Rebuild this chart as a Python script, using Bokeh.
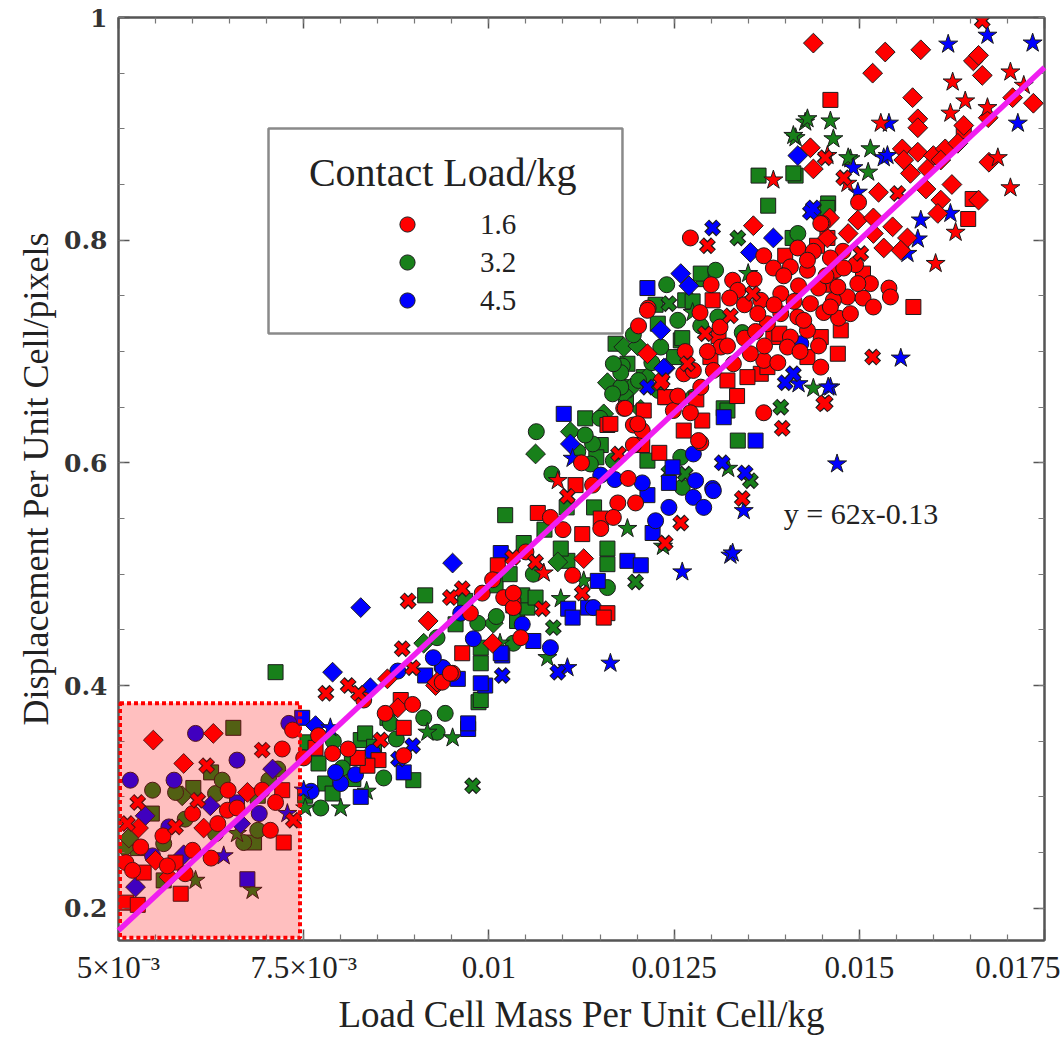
import numpy as np
from bokeh.plotting import figure
from bokeh.models import (FixedTicker, LinearAxis, BoxAnnotation, Label, Legend,
                          LegendItem, Range1d)
from bokeh.embed import file_html
from bokeh.resources import INLINE

# ---- measurements: (load cell mass per unit cell [kg], displacement per unit cell [pixels]) ----
# contact load 1.6 kg
red_circle = [
    (0.00721, 0.343), (0.00735, 0.360), (0.00510, 0.241), (0.00519, 0.234), (0.00566, 0.238),
    (0.00600, 0.252), (0.00590, 0.231), (0.00648, 0.306), (0.00647, 0.288), (0.00634, 0.276),
    (0.00694, 0.306), (0.00705, 0.270), (0.00560, 0.265), (0.00600, 0.285), (0.00660, 0.290),
    (0.00530, 0.255), (0.00712, 0.295), (0.00625, 0.245),
    (0.00991, 0.483), (0.01020, 0.479), (0.01033, 0.470), (0.00937, 0.403), (0.00951, 0.411),
    (0.00831, 0.387), (0.00897, 0.383), (0.00810, 0.343), (0.00789, 0.339), (0.00750, 0.335),
    (0.00885, 0.337), (0.00770, 0.355), (0.00860, 0.375), (0.01005, 0.495), (0.01050, 0.520),
    (0.00975, 0.465),
    (0.01182, 0.649), (0.01195, 0.634), (0.01207, 0.629), (0.01263, 0.680), (0.01276, 0.683),
    (0.01249, 0.647), (0.01286, 0.668), (0.01286, 0.618), (0.01195, 0.616), (0.01140, 0.580),
    (0.01188, 0.586), (0.01198, 0.564), (0.01174, 0.564), (0.01113, 0.499), (0.01151, 0.541),
    (0.01168, 0.551), (0.01083, 0.551), (0.01033, 0.483), (0.01371, 0.645), (0.01043, 0.443),
    (0.00948, 0.411), (0.01283, 0.620), (0.01100, 0.540), (0.01125, 0.600),
    (0.01272, 0.802), (0.01371, 0.786), (0.01450, 0.815), (0.01329, 0.764), (0.01336, 0.755),
    (0.01384, 0.775), (0.01407, 0.776), (0.01430, 0.773), (0.01367, 0.746), (0.01394, 0.752),
    (0.01418, 0.759), (0.01445, 0.757), (0.01468, 0.773), (0.01484, 0.749), (0.01465, 0.746),
    (0.01434, 0.743), (0.01417, 0.731), (0.01394, 0.734), (0.01376, 0.725), (0.01363, 0.734),
    (0.01407, 0.713), (0.01430, 0.719), (0.01403, 0.704), (0.01448, 0.686), (0.01371, 0.692),
    (0.01353, 0.698), (0.01202, 0.723), (0.01215, 0.739), (0.01313, 0.704), (0.01303, 0.683),
    (0.01330, 0.689), (0.01184, 0.649), (0.01201, 0.635), (0.01214, 0.737),
    (0.01295, 0.700), (0.01312, 0.722), (0.01325, 0.748), (0.01345, 0.712), (0.01358, 0.765),
    (0.01372, 0.705), (0.01385, 0.742), (0.01398, 0.768), (0.01412, 0.745), (0.01425, 0.728),
    (0.01438, 0.790), (0.01452, 0.735), (0.01455, 0.768), (0.01472, 0.730), (0.01478, 0.790),
    (0.01495, 0.778), (0.01505, 0.748), (0.01345, 0.742), (0.01360, 0.718), (0.01390, 0.690),
    (0.01322, 0.705), (0.01285, 0.735), (0.01300, 0.760), (0.01265, 0.700), (0.01255, 0.660),
    (0.01272, 0.645), (0.01420, 0.700), (0.01445, 0.705),
    (0.01499, 0.834), (0.01540, 0.757), (0.01515, 0.761), (0.01542, 0.749), (0.01479, 0.775),
    (0.01498, 0.761), (0.01471, 0.758), (0.01448, 0.815), (0.01461, 0.784), (0.01417, 0.793),
    (0.01430, 0.782), (0.01519, 0.740), (0.01461, 0.740), (0.01488, 0.734),
]
red_square = [
    (0.00510, 0.205), (0.00526, 0.203), (0.00534, 0.232), (0.00584, 0.213), (0.00577, 0.241),
    (0.00721, 0.306), (0.00723, 0.259),
    (0.01012, 0.508), (0.00964, 0.429), (0.00881, 0.387), (0.00885, 0.362), (0.00851, 0.333),
    (0.00836, 0.328), (0.00823, 0.335), (0.00766, 0.344),
    (0.01209, 0.647), (0.01160, 0.634), (0.01241, 0.659), (0.01288, 0.638), (0.01263, 0.629),
    (0.01230, 0.609), (0.01207, 0.616), (0.01117, 0.580), (0.01126, 0.536), (0.01151, 0.550),
    (0.01066, 0.555), (0.01033, 0.472), (0.01160, 0.465), (0.01164, 0.635), (0.01155, 0.461),
    (0.01400, 0.786), (0.01457, 0.802), (0.01443, 0.795), (0.01384, 0.713), (0.01448, 0.713),
    (0.01475, 0.719), (0.01471, 0.698), (0.01430, 0.695), (0.01367, 0.680), (0.01349, 0.677),
    (0.01238, 0.659), (0.01302, 0.746), (0.01310, 0.714), (0.01299, 0.695), (0.01322, 0.674),
    (0.01376, 0.686), (0.01335, 0.660), (0.01392, 0.716), (0.01460, 0.760), (0.01505, 0.770),
    (0.01280, 0.657),
    (0.01461, 0.926), (0.01641, 0.898), (0.01653, 0.837), (0.01647, 0.819), (0.01573, 0.740),
]
red_diamond = [
    (0.00547, 0.351), (0.00628, 0.357), (0.00588, 0.330), (0.00527, 0.272), (0.00550, 0.243),
    (0.00568, 0.228), (0.00615, 0.272), (0.00674, 0.304),
    (0.00918, 0.458), (0.01005, 0.438), (0.00863, 0.406), (0.00928, 0.400), (0.00877, 0.380),
    (0.00930, 0.403), (0.01128, 0.514),
    (0.01357, 0.813), (0.01485, 0.806), (0.01214, 0.698),
    (0.01438, 0.977), (0.01535, 0.969), (0.01583, 0.971), (0.01654, 0.961), (0.01661, 0.966),
    (0.01666, 0.948), (0.01518, 0.950), (0.01572, 0.928), (0.01707, 0.928), (0.01735, 0.923),
    (0.01579, 0.909), (0.01579, 0.901), (0.01674, 0.910), (0.01641, 0.903), (0.01434, 0.883),
    (0.01558, 0.882), (0.01579, 0.879), (0.01600, 0.876), (0.01616, 0.882), (0.01633, 0.887),
    (0.01560, 0.872), (0.01569, 0.860), (0.01592, 0.864), (0.01610, 0.872), (0.01438, 0.864),
    (0.01526, 0.843), (0.01610, 0.836), (0.01661, 0.836), (0.01606, 0.824), (0.01498, 0.818),
    (0.01519, 0.820), (0.01565, 0.802), (0.01556, 0.791), (0.01519, 0.806), (0.01533, 0.793),
    (0.01457, 0.802), (0.01590, 0.846), (0.01625, 0.850), (0.01545, 0.812), (0.01460, 0.820),
    (0.01675, 0.870),
]
red_star = [
    (0.01093, 0.584), (0.01074, 0.501),
    (0.01626, 0.942), (0.01704, 0.951), (0.01722, 0.939), (0.01643, 0.925), (0.01673, 0.919),
    (0.01623, 0.914), (0.01529, 0.905), (0.01457, 0.876), (0.01687, 0.874), (0.01704, 0.847),
    (0.01484, 0.851), (0.01630, 0.807), (0.01603, 0.779), (0.01384, 0.854),
]
red_cross = [
    (0.00619, 0.328), (0.00694, 0.342), (0.00526, 0.295), (0.00512, 0.276), (0.00577, 0.273),
    (0.00607, 0.297), (0.00736, 0.279),
    (0.00891, 0.476), (0.00948, 0.479), (0.00964, 0.487), (0.00883, 0.433), (0.00780, 0.393),
    (0.00810, 0.400), (0.00824, 0.393), (0.00897, 0.416), (0.00854, 0.351),
    (0.01234, 0.674), (0.01175, 0.608), (0.01106, 0.570), (0.01259, 0.546), (0.01238, 0.528),
    (0.01126, 0.483), (0.01032, 0.515), (0.01063, 0.511), (0.01072, 0.469), (0.01396, 0.631),
    (0.01342, 0.568),
    (0.01295, 0.795), (0.01356, 0.752), (0.01452, 0.653), (0.01292, 0.716), (0.01326, 0.732),
    (0.01268, 0.689), (0.01232, 0.672),
    (0.01666, 0.997), (0.01479, 0.856), (0.01552, 0.842), (0.01502, 0.788), (0.01454, 0.874),
    (0.01518, 0.695), (0.01454, 0.654),
]

# contact load 3.2 kg
green_circle = [
    (0.00546, 0.306), (0.00561, 0.258), (0.00577, 0.304), (0.00631, 0.303), (0.00631, 0.267),
    (0.00703, 0.315), (0.00688, 0.270), (0.00669, 0.259), (0.00590, 0.280), (0.00640, 0.315),
    (0.00715, 0.325),
    (0.00985, 0.456), (0.00930, 0.443), (0.00867, 0.366), (0.00912, 0.371), (0.00930, 0.358),
    (0.00941, 0.375), (0.00802, 0.326), (0.00858, 0.317), (0.00773, 0.290), (0.00790, 0.350),
    (0.00875, 0.352), (0.01010, 0.462), (0.01060, 0.500),
    (0.01064, 0.628), (0.01137, 0.599), (0.01140, 0.617), (0.01178, 0.668), (0.01180, 0.687),
    (0.01259, 0.605), (0.01168, 0.602), (0.01261, 0.578), (0.01160, 0.488), (0.01229, 0.665),
    (0.01033, 0.438), (0.01085, 0.590), (0.01120, 0.610),
    (0.01306, 0.773), (0.01286, 0.723), (0.01309, 0.731), (0.01342, 0.717), (0.01276, 0.659),
    (0.01178, 0.681), (0.01167, 0.662), (0.01168, 0.689), (0.01202, 0.674), (0.01232, 0.704),
    (0.01195, 0.715), (0.01240, 0.760), (0.01255, 0.728), (0.01150, 0.640), (0.01220, 0.690),
    (0.01130, 0.625),
    (0.01417, 0.806),
]
green_square = [
    (0.00655, 0.362), (0.00526, 0.254), (0.00561, 0.225), (0.00601, 0.308), (0.00688, 0.301),
    (0.00683, 0.259), (0.00545, 0.285), (0.00625, 0.322),
    (0.00914, 0.481), (0.00968, 0.476), (0.01009, 0.490), (0.00712, 0.412), (0.00989, 0.420),
    (0.00863, 0.371), (0.00986, 0.385), (0.00898, 0.315), (0.00827, 0.351), (0.00833, 0.357),
    (0.00779, 0.312), (0.00817, 0.316), (0.00789, 0.303), (0.00755, 0.349), (0.00752, 0.301),
    (0.00989, 0.387), (0.01038, 0.458), (0.01052, 0.470), (0.00989, 0.434), (0.00815, 0.335),
    (0.00845, 0.345), (0.00770, 0.330), (0.00955, 0.455), (0.01028, 0.500), (0.01075, 0.540),
    (0.01151, 0.616), (0.01214, 0.602), (0.01160, 0.523), (0.01160, 0.509), (0.01106, 0.512),
    (0.01142, 0.560), (0.01022, 0.553), (0.01047, 0.528), (0.01097, 0.523), (0.01045, 0.481),
    (0.01063, 0.479), (0.01336, 0.620), (0.01105, 0.560), (0.01130, 0.640),
    (0.01377, 0.831), (0.01410, 0.802), (0.01458, 0.833), (0.01290, 0.765), (0.01317, 0.649),
    (0.01228, 0.725), (0.01265, 0.746), (0.01259, 0.710), (0.01209, 0.677), (0.01182, 0.668),
    (0.01171, 0.707), (0.01286, 0.770), (0.01187, 0.689), (0.01261, 0.712), (0.01322, 0.647),
    (0.01185, 0.655), (0.01250, 0.695), (0.01275, 0.745), (0.01225, 0.742), (0.01145, 0.605),
    (0.01414, 0.858), (0.01457, 0.829), (0.01364, 0.858), (0.01411, 0.860),
]
green_diamond = [
    (0.00509, 0.254), (0.00586, 0.301), (0.00514, 0.263),
    (0.01006, 0.456), (0.00912, 0.438),
    (0.01063, 0.608), (0.01110, 0.628), (0.01155, 0.644), (0.01191, 0.667), (0.01214, 0.677),
    (0.01093, 0.511), (0.01182, 0.662), (0.01182, 0.704), (0.01201, 0.705), (0.01160, 0.672),
    (0.01205, 0.648),
]
green_star = [
    (0.00604, 0.225), (0.00660, 0.267), (0.00681, 0.216),
    (0.00951, 0.353), (0.00917, 0.358), (0.00800, 0.290), (0.00752, 0.290), (0.01079, 0.425),
    (0.01097, 0.478), (0.00835, 0.305), (0.01015, 0.438),
    (0.01128, 0.494), (0.01187, 0.541), (0.01323, 0.595), (0.01438, 0.667), (0.01235, 0.525),
    (0.01275, 0.735), (0.01350, 0.770),
    (0.01427, 0.906), (0.01461, 0.907), (0.01465, 0.891), (0.01414, 0.892), (0.01488, 0.873),
    (0.01515, 0.882), (0.01512, 0.861), (0.01430, 0.909), (0.01411, 0.894), (0.01485, 0.874),
]
green_cross = [
    (0.00978, 0.310), (0.01198, 0.493), (0.01243, 0.591), (0.01353, 0.584), (0.01087, 0.452),
    (0.01336, 0.802), (0.01438, 0.828), (0.01243, 0.743), (0.01394, 0.650), (0.01265, 0.590),
]

# contact load 4.5 kg
blue_circle = [
    (0.00604, 0.357), (0.00660, 0.333), (0.00730, 0.366), (0.00516, 0.315), (0.00546, 0.247),
    (0.00568, 0.273), (0.00575, 0.315), (0.00690, 0.285),
    (0.00962, 0.465), (0.00979, 0.442), (0.00877, 0.413), (0.00937, 0.416), (0.00843, 0.340),
    (0.00800, 0.312), (0.00793, 0.322), (0.01083, 0.434), (0.00938, 0.416), (0.00820, 0.320),
    (0.00760, 0.305), (0.01045, 0.455), (0.00925, 0.425),
    (0.01151, 0.589), (0.01207, 0.582), (0.01276, 0.569), (0.01302, 0.577), (0.01243, 0.560),
    (0.01141, 0.470), (0.01303, 0.575), (0.01279, 0.584), (0.01276, 0.608), (0.01170, 0.585),
    (0.01225, 0.548), (0.01290, 0.560),
    (0.01421, 0.707),
]
blue_square = [
    (0.00660, 0.295), (0.00674, 0.226),
    (0.00914, 0.409), (0.00958, 0.406), (0.00995, 0.400), (0.01018, 0.427), (0.00972, 0.361),
    (0.00885, 0.322), (0.00827, 0.300), (0.00748, 0.371), (0.00989, 0.402), (0.00972, 0.366),
    (0.01016, 0.429), (0.01060, 0.440),
    (0.01101, 0.644), (0.01214, 0.571), (0.01243, 0.582), (0.01248, 0.596), (0.01221, 0.537),
    (0.01187, 0.512), (0.01205, 0.508), (0.01147, 0.494), (0.01107, 0.469), (0.01360, 0.620),
    (0.01317, 0.641), (0.01016, 0.519), (0.01113, 0.461), (0.01134, 0.470), (0.01214, 0.757),
]
blue_diamond = [
    (0.00708, 0.325), (0.00536, 0.283), (0.00523, 0.219), (0.00624, 0.292), (0.00665, 0.276),
    (0.00588, 0.248),
    (0.00951, 0.510), (0.00827, 0.470), (0.00789, 0.412), (0.00840, 0.398), (0.00766, 0.364),
    (0.01110, 0.617), (0.01238, 0.685),
    (0.01384, 0.802), (0.01353, 0.789), (0.01259, 0.770), (0.01270, 0.759), (0.01232, 0.719),
    (0.01236, 0.685), (0.01417, 0.876),
]
blue_star = [
    (0.00728, 0.285), (0.00642, 0.247), (0.00786, 0.362), (0.00750, 0.306),
    (0.01113, 0.604), (0.01261, 0.502), (0.01326, 0.517), (0.01164, 0.420), (0.01106, 0.416),
    (0.01344, 0.557), (0.01470, 0.599), (0.01329, 0.519), (0.01418, 0.671), (0.01461, 0.668),
    (0.01620, 0.976), (0.01673, 0.984), (0.01734, 0.977), (0.01714, 0.905), (0.01540, 0.905),
    (0.01533, 0.874), (0.01492, 0.865), (0.01498, 0.843), (0.01623, 0.824), (0.01583, 0.818),
    (0.01579, 0.801), (0.01565, 0.788), (0.01538, 0.876), (0.01556, 0.694), (0.01458, 0.668),
]
blue_cross = [
    (0.00897, 0.346), (0.00878, 0.334), (0.01018, 0.409), (0.01093, 0.412), (0.01346, 0.591),
    (0.01302, 0.811), (0.01438, 0.829), (0.01400, 0.672), (0.01214, 0.668), (0.01434, 0.825),
    (0.01411, 0.680), (0.01315, 0.600),
]

load_labels = ["1.6", "3.2", "4.5"]
fit_slope, fit_intercept = 62.0, -0.13
fit_x = [0.005, 0.0175]

x_ticks = [0.005, 0.0075, 0.01, 0.0125, 0.015, 0.0175]
x_tick_text = ["5×10⁻³", "7.5×10⁻³", "0.01", "0.0125", "0.015", "0.0175"]
y_ticks = [0.2, 0.4, 0.6, 0.8, 1.0]
y_tick_text = ["0.2", "0.4", "0.6", "0.8", "1"]

RED, GREEN, BLUE = "#ff0000", "#18801a", "#0000ff"
EDGE = "#1c1c1c"
SERIF = "Liberation Serif"
INK = "#222222"

p = figure(width=1060, height=1038, output_backend="svg", toolbar_location=None,
           x_range=Range1d(0.005, 0.0175), y_range=Range1d(0.171, 1.0),
           min_border_left=118, min_border_right=16, min_border_top=17, min_border_bottom=98,
           x_axis_label="Load Cell Mass Per Unit Cell/kg",
           y_axis_label="Displacement Per Unit Cell/pixels")
p.xgrid.visible = False
p.ygrid.visible = False
p.background_fill_color = "white"
p.border_fill_color = "white"
p.outline_line_color = "#555555"
p.outline_line_width = 2

x_minor = [round(0.005 + 0.0005 * i, 5) for i in range(26)]
y_minor = [round(0.2 + 0.05 * i, 3) for i in range(17)]


def style_axis(ax, ticks, minor, labels=None):
    ax.ticker = FixedTicker(ticks=ticks, minor_ticks=minor)
    ax.axis_line_color = "#555555"
    ax.axis_line_width = 2
    ax.major_tick_in = 11
    ax.major_tick_out = 0
    ax.minor_tick_in = 6
    ax.minor_tick_out = 0
    ax.major_tick_line_color = "#555555"
    ax.major_tick_line_width = 1.5
    ax.minor_tick_line_color = "#777777"
    ax.minor_tick_line_width = 1.2
    if labels is None:
        # mirrored frame axis: ticks only
        ax.major_label_text_color = None
        ax.major_label_text_font_size = "1px"
        ax.major_label_standoff = 0
    else:
        ax.major_label_overrides = dict(zip(ticks, labels))


xa = p.xaxis[0]
style_axis(xa, x_ticks, x_minor, x_tick_text)
xa.major_label_text_font = SERIF
xa.major_label_text_font_size = "31px"
xa.major_label_text_color = INK
xa.major_label_standoff = 9
xa.axis_label_text_font = SERIF
xa.axis_label_text_font_size = "37px"
xa.axis_label_text_font_style = "normal"
xa.axis_label_text_color = INK
xa.axis_label_standoff = 6

ya = p.yaxis[0]
style_axis(ya, y_ticks, y_minor, y_tick_text)
ya.major_label_text_font = "DejaVu Serif"
ya.major_label_text_font_style = "bold"
ya.major_label_text_font_size = "25px"
ya.major_label_text_color = "#333333"
ya.major_label_standoff = 11
ya.axis_label_text_font = SERIF
ya.axis_label_text_font_size = "36px"
ya.axis_label_text_font_style = "normal"
ya.axis_label_text_color = INK
ya.axis_label_standoff = 5

top_ax = LinearAxis()
style_axis(top_ax, x_ticks, x_minor)
p.add_layout(top_ax, "above")
right_ax = LinearAxis()
style_axis(right_ax, y_ticks, y_minor)
p.add_layout(right_ax, "right")


def xy(points):
    return [pt[0] for pt in points], [pt[1] for pt in points]


def draw_series(color, circles, squares, diamonds, stars, crosses):
    xs, ys = xy(squares)
    p.scatter(xs, ys, marker="square", size=15, fill_color=color, line_color=EDGE, line_width=1)
    xs, ys = xy(diamonds)
    p.scatter(xs, ys, marker="square", angle=np.pi / 4, size=14, fill_color=color,
              line_color=EDGE, line_width=1)
    xs, ys = xy(circles)
    rc = p.scatter(xs, ys, marker="circle", size=16, fill_color=color, line_color=EDGE,
                   line_width=1)
    xs, ys = xy(stars)
    p.scatter(xs, ys, marker="star", size=20, fill_color=color, line_color=EDGE, line_width=1)
    xs, ys = xy(crosses)
    p.scatter(xs, ys, marker="x", size=17, line_color=EDGE, line_width=7)
    p.scatter(xs, ys, marker="x", size=15.5, line_color=color, line_width=4.5)
    return rc


r_green = draw_series(GREEN, green_circle, green_square, green_diamond, green_star, green_cross)
r_blue = draw_series(BLUE, blue_circle, blue_square, blue_diamond, blue_star, blue_cross)
r_red = draw_series(RED, red_circle, red_square, red_diamond, red_star, red_cross)

# highlighted low-mass region
p.add_layout(BoxAnnotation(left=0.00502, right=0.00745, bottom=0.1735, top=0.384,
                           fill_color="#ff0000", fill_alpha=0.25,
                           line_color="#ff0000", line_alpha=1.0, line_width=4,
                           line_dash="4 3"))

# linear fit
fit_y = [fit_slope * x + fit_intercept for x in fit_x]
fit = p.line(fit_x, fit_y, line_color="#f01ef0", line_width=5.5)
fit.level = "overlay"

p.add_layout(Label(x=0.01398, y=0.5545, text="y = 62x-0.13", text_font=SERIF,
                   text_font_size="30px", text_color=INK, text_baseline="middle"))

# legend frame, title and entries
p.add_layout(BoxAnnotation(left=0.007025, right=0.011803, bottom=0.7162, top=0.9003,
                           fill_alpha=0, line_color="#8a8a8a", line_alpha=1.0,
                           line_width=2.5))
p.add_layout(Label(x=0.00757, y=0.8608, text="Contact Load/kg", text_font=SERIF,
                   text_font_size="40px", text_color=INK, text_baseline="middle"))
legend = Legend(items=[LegendItem(label=load_labels[0], renderers=[r_red]),
                       LegendItem(label=load_labels[1], renderers=[r_green]),
                       LegendItem(label=load_labels[2], renderers=[r_blue])],
                location=(268, 621), orientation="vertical",
                border_line_alpha=0, background_fill_alpha=0,
                padding=0, margin=0, spacing=0,
                glyph_width=42, glyph_height=38, label_height=38, label_standoff=52,
                label_text_font=SERIF, label_text_font_size="29px",
                label_text_color=INK)
p.add_layout(legend)

open("out.html", "w").write(file_html(p, INLINE))
